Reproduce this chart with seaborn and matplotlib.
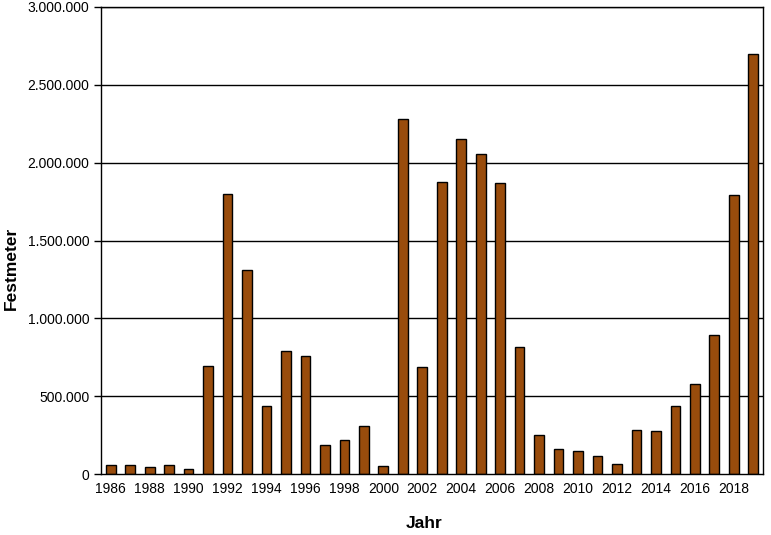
import numpy as np
import pandas as pd
import seaborn as sns
import matplotlib.pyplot as plt
from matplotlib.ticker import FuncFormatter, FixedLocator

years = list(range(1986, 2020))
festmeter = [58000, 58000, 43000, 58000, 30000, 692000, 1797000, 1308000, 437000, 788000,
             756000, 184000, 216000, 306000, 49000, 2278000, 685000, 1873000, 2150000, 2053000,
             1867000, 814000, 249000, 159000, 146000, 114000, 62000, 281000, 274000, 437000,
             576000, 891000, 1790000, 2696000]
y_ticks = [0, 500000, 1000000, 1500000, 2000000, 2500000, 3000000]

df = pd.DataFrame({'Jahr': [str(y) for y in years], 'Festmeter': festmeter})

sns.set_style('white')
plt.rcParams['font.family'] = ['Liberation Sans', 'DejaVu Sans']
plt.rcParams['text.color'] = 'black'
plt.rcParams['axes.labelcolor'] = 'black'
plt.rcParams['xtick.color'] = 'black'
plt.rcParams['ytick.color'] = 'black'

fig = plt.figure(figsize=(7.71, 5.35), dpi=100)
ax = fig.add_axes([101 / 771, 1 - 474 / 535, 662 / 771, 467 / 535])

for y in y_ticks[1:]:
    ax.axhline(y, color='black', linewidth=1, zorder=0)

sns.barplot(data=df, x='Jahr', y='Festmeter', color='#994C0C', saturation=1,
            edgecolor='black', linewidth=1, width=0.5, ax=ax, zorder=2)

ax.set_xlim(-0.5, len(years) - 0.5)
ax.set_ylim(0, 3000000)
ax.yaxis.set_major_locator(FixedLocator(y_ticks))
ax.yaxis.set_major_formatter(FuncFormatter(lambda v, p: f'{int(v):,}'.replace(',', '.')))

# labels every other year, ticks at category boundaries
ax.set_xticks(range(0, len(years), 2))
ax.set_xticklabels([str(y) for y in years[::2]])
ax.set_xticks(np.arange(-0.5, len(years), 1), minor=True)
ax.tick_params(axis='x', which='major', length=0, pad=6, labelsize=10)
ax.tick_params(axis='x', which='minor', length=5, width=1, color='black', direction='out')
ax.tick_params(axis='y', which='major', length=5, width=1, color='black', direction='out',
               labelsize=10, left=True)

for s in ax.spines.values():
    s.set_color('black')
    s.set_linewidth(1)
    s.set_visible(True)

ax.set_xlabel('Jahr', fontsize=12.5, fontweight='bold', va='center')
ax.set_ylabel('Festmeter', fontsize=12.5, fontweight='bold', va='center')
ax.xaxis.set_label_coords(0.488, -0.105)
ax.yaxis.set_label_coords(-0.136, 0.441)

fig.savefig('out.png', dpi=100)
